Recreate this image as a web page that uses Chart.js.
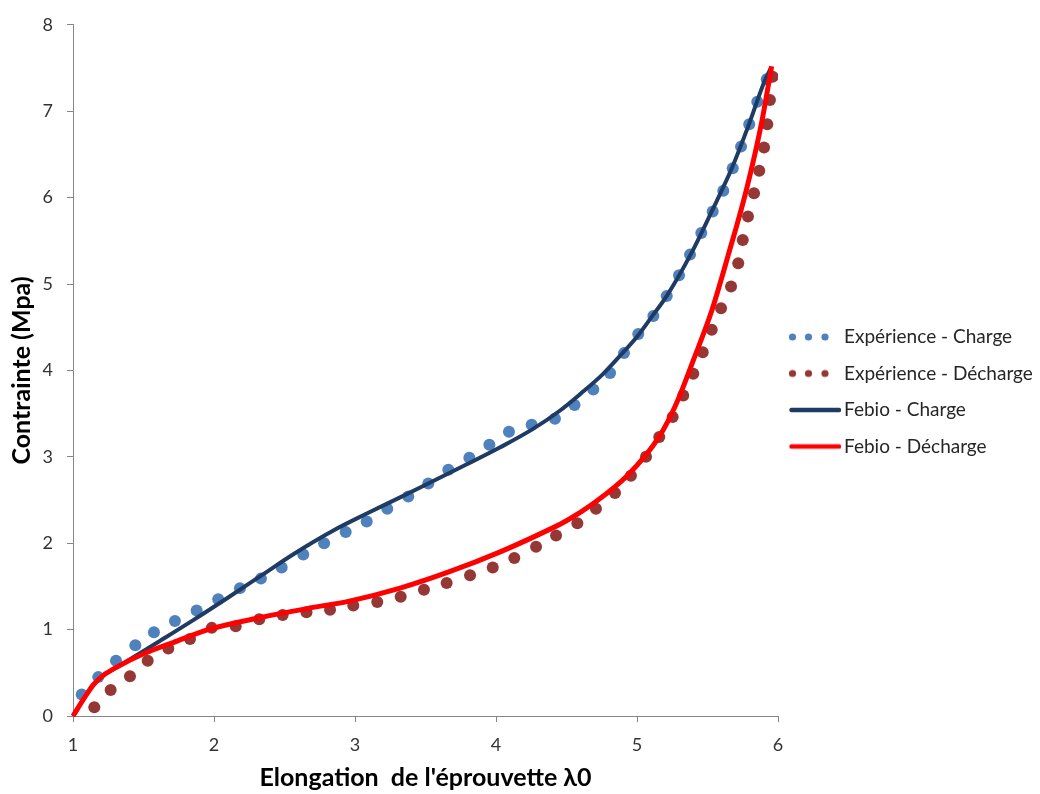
<!DOCTYPE html>
<html>
<head>
<meta charset="utf-8">
<script src="https://cdn.jsdelivr.net/npm/chart.js@4"></script>
<style>
  body { margin: 0; background: #fff; }
  #wrap { width: 1040px; height: 794px; }
</style>
</head>
<body>
<div id="wrap"><canvas id="chart" width="1040" height="794"></canvas></div>
<script>
// values
const expChargeX = [1.062, 1.179, 1.305, 1.442, 1.574, 1.723, 1.877, 2.030, 2.184, 2.333, 2.480, 2.633, 2.781, 2.934, 3.083, 3.229, 3.378, 3.520, 3.662, 3.811, 3.953, 4.092, 4.253, 4.418, 4.557, 4.690, 4.809, 4.908, 5.009, 5.116, 5.211, 5.298, 5.376, 5.456, 5.537, 5.612, 5.679, 5.738, 5.796, 5.853, 5.920];
const expChargeY = [0.25, 0.45, 0.64, 0.82, 0.97, 1.10, 1.22, 1.35, 1.48, 1.59, 1.72, 1.87, 2.00, 2.13, 2.25, 2.40, 2.54, 2.69, 2.85, 2.99, 3.14, 3.29, 3.37, 3.44, 3.60, 3.78, 3.97, 4.20, 4.42, 4.63, 4.86, 5.10, 5.34, 5.59, 5.84, 6.08, 6.34, 6.59, 6.85, 7.11, 7.37];

const expDechargeX = [1.151, 1.267, 1.404, 1.530, 1.676, 1.830, 1.984, 2.154, 2.321, 2.487, 2.656, 2.823, 2.988, 3.158, 3.324, 3.489, 3.650, 3.816, 3.977, 4.130, 4.284, 4.426, 4.577, 4.709, 4.844, 4.957, 5.064, 5.158, 5.253, 5.328, 5.399, 5.466, 5.530, 5.596, 5.667, 5.718, 5.750, 5.787, 5.830, 5.867, 5.901, 5.924, 5.943, 5.962];
const expDechargeY = [0.10, 0.30, 0.46, 0.64, 0.78, 0.89, 1.02, 1.04, 1.12, 1.17, 1.20, 1.23, 1.28, 1.32, 1.38, 1.46, 1.54, 1.63, 1.72, 1.83, 1.96, 2.09, 2.23, 2.40, 2.58, 2.78, 3.00, 3.23, 3.46, 3.71, 3.96, 4.21, 4.47, 4.72, 4.97, 5.24, 5.51, 5.78, 6.05, 6.31, 6.58, 6.85, 7.13, 7.40];

const febioChargeX = [1.00, 1.085, 1.144, 1.215, 1.333, 1.617, 1.853, 2.09, 2.33, 2.56, 2.85, 3.08, 3.32, 3.555, 3.79, 4.03, 4.26, 4.45, 4.60, 4.76, 4.88, 5.00, 5.10, 5.21, 5.38, 5.53, 5.67, 5.79, 5.91, 5.95];
const febioChargeY = [0.00, 0.22, 0.36, 0.47, 0.585, 0.87, 1.11, 1.36, 1.62, 1.87, 2.15, 2.34, 2.53, 2.72, 2.91, 3.11, 3.32, 3.53, 3.73, 3.96, 4.17, 4.39, 4.61, 4.86, 5.34, 5.84, 6.33, 6.83, 7.37, 7.50];

const febioDechargeX = [1.00, 1.085, 1.144, 1.215, 1.31, 1.50, 1.71, 1.97, 2.33, 2.68, 2.96, 3.32, 3.67, 4.03, 4.38, 4.50, 4.69, 4.93, 5.16, 5.28, 5.40, 5.53, 5.648, 5.778, 5.884, 5.955];
const febioDechargeY = [0.00, 0.22, 0.36, 0.47, 0.565, 0.72, 0.85, 1.005, 1.14, 1.25, 1.33, 1.48, 1.67, 1.90, 2.16, 2.26, 2.46, 2.78, 3.24, 3.62, 4.12, 4.69, 5.34, 6.105, 6.87, 7.52];

const seriesNames = ['Expérience - Charge', 'Expérience - Décharge', 'Febio - Charge', 'Febio - Décharge'];
const xTitle = "Elongation  de l'éprouvette λ0";
const yTitle = 'Contrainte (Mpa)';

const blue = '#4F81BD';
const darkRed = '#953735';
const navy = '#1F3A63';
const red = '#FF0000';
const fontFamily = "Lato, 'Open Sans', sans-serif";

function toPoints(xs, ys) {
    return xs.map((x, i) => ({ x: x, y: ys[i] }));
}

// small legend icons: three dots or a thick line
function dotsIcon(color) {
    const c = document.createElement('canvas');
    c.width = 52; c.height = 10;
    const ctx = c.getContext('2d');
    ctx.fillStyle = color;
    [3.5, 19.5, 36].forEach(x => {
        ctx.beginPath();
        ctx.arc(x, 5, 3.6, 0, Math.PI * 2);
        ctx.fill();
    });
    return c;
}
function lineIcon(color) {
    const c = document.createElement('canvas');
    c.width = 52; c.height = 10;
    const ctx = c.getContext('2d');
    ctx.strokeStyle = color;
    ctx.lineWidth = 4.5;
    ctx.lineCap = 'round';
    ctx.beginPath();
    ctx.moveTo(2.5, 5);
    ctx.lineTo(50, 5);
    ctx.stroke();
    return c;
}
const legendIcons = [dotsIcon(blue), dotsIcon(darkRed), lineIcon(navy), lineIcon(red)];

// legend sizing so that the plot area ends where the picture's does
const legendFontSize = 19;
const legendPadding = 17.5;
const legendBox = 39;
const legendRoom = 1040 - 778;
const measure = document.createElement('canvas').getContext('2d');
measure.font = legendFontSize + 'px ' + fontFamily;
const maxText = Math.max(...seriesNames.map(s => measure.measureText(s).width));
const legendNatural = legendPadding + legendBox + legendFontSize / 2 + maxText + 10;
const rightPad = Math.max(0, legendRoom - legendNatural);

const ctx = document.getElementById('chart').getContext('2d');
new Chart(ctx, {
    type: 'scatter',
    data: {
        datasets: [
            {
                label: seriesNames[0],
                data: toPoints(expChargeX, expChargeY),
                backgroundColor: blue,
                borderColor: blue,
                pointRadius: 6,
                pointBorderWidth: 0,
                showLine: false,
                order: 3
            },
            {
                label: seriesNames[1],
                data: toPoints(expDechargeX, expDechargeY),
                backgroundColor: darkRed,
                borderColor: darkRed,
                pointRadius: 6,
                pointBorderWidth: 0,
                showLine: false,
                order: 2
            },
            {
                label: seriesNames[2],
                data: toPoints(febioChargeX, febioChargeY),
                borderColor: navy,
                backgroundColor: navy,
                borderWidth: 4,
                pointRadius: 0,
                showLine: true,
                cubicInterpolationMode: 'monotone',
                clip: false,
                order: 1
            },
            {
                label: seriesNames[3],
                data: toPoints(febioDechargeX, febioDechargeY),
                borderColor: red,
                backgroundColor: red,
                borderWidth: 5,
                pointRadius: 0,
                showLine: true,
                cubicInterpolationMode: 'monotone',
                clip: false,
                order: 0
            }
        ]
    },
    options: {
        responsive: false,
        animation: false,
        layout: { padding: { top: 18, right: rightPad, bottom: 0, left: 0 } },
        plugins: {
            tooltip: { enabled: false },
            legend: {
                position: 'right',
                align: 'start',
                maxWidth: legendRoom - rightPad,
                title: {
                    display: true,
                    text: ' ',
                    font: { size: 10, lineHeight: 1 },
                    padding: { top: 282, bottom: 0 }
                },
                labels: {
                    usePointStyle: true,
                    pointStyleWidth: legendBox,
                    padding: legendPadding,
                    color: '#262626',
                    font: { family: fontFamily, size: legendFontSize },
                    sort: (a, b) => a.datasetIndex - b.datasetIndex,
                    generateLabels(chart) {
                        const items = Chart.defaults.plugins.legend.labels.generateLabels(chart);
                        items.forEach(it => { it.pointStyle = legendIcons[it.datasetIndex]; });
                        return items;
                    }
                }
            }
        },
        scales: {
            x: {
                type: 'linear',
                min: 1,
                max: 6,
                afterFit(scale) { scale.height = 78; },
                ticks: {
                    stepSize: 1,
                    padding: 12,
                    color: '#333',
                    font: { family: fontFamily, size: 18 }
                },
                grid: { display: true, drawOnChartArea: false, drawTicks: true, tickLength: 6, color: '#868686' },
                border: { display: true, color: '#868686', width: 1 },
                title: {
                    display: true,
                    text: xTitle,
                    color: '#000',
                    font: { family: fontFamily, size: 25, weight: 'bold', lineHeight: 1.2 },
                    padding: { top: 0, bottom: 1 }
                }
            },
            y: {
                type: 'linear',
                min: 0,
                max: 8,
                afterFit(scale) { scale.width = 73; },
                ticks: {
                    stepSize: 1,
                    padding: 14,
                    color: '#333',
                    font: { family: fontFamily, size: 18 }
                },
                grid: { display: true, drawOnChartArea: false, drawTicks: true, tickLength: 6, color: '#868686' },
                border: { display: true, color: '#868686', width: 1 },
                title: {
                    display: true,
                    text: yTitle,
                    color: '#000',
                    font: { family: fontFamily, size: 25, weight: 'bold', lineHeight: 1.2 },
                    padding: { top: 7, bottom: 0 }
                }
            }
        }
    }
});
</script>
</body>
</html>
